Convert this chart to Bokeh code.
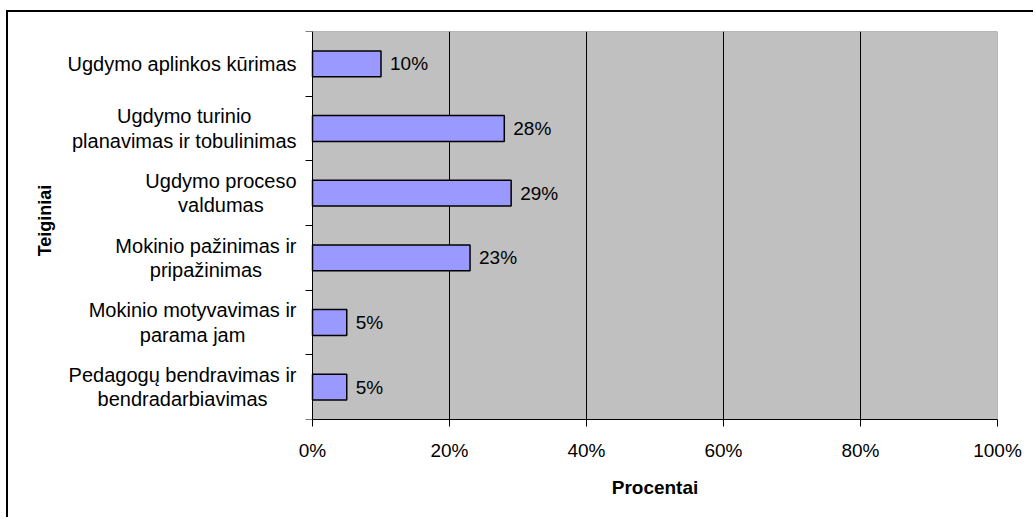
import math

from bokeh.plotting import figure
from bokeh.models import Range1d, FixedTicker, PrintfTickFormatter, ColumnDataSource, Title
from bokeh.core.properties import value
from bokeh.embed import file_html
from bokeh.resources import INLINE

# Statements (top to bottom) and the share of answers for each, in percent
categories = [
    "Ugdymo aplinkos kūrimas",
    "Ugdymo turinio\nplanavimas ir tobulinimas",
    "Ugdymo proceso\nvaldumas",
    "Mokinio pažinimas ir\npripažinimas",
    "Mokinio motyvavimas ir\nparama jam",
    "Pedagogų bendravimas ir\nbendradarbiavimas",
]
percent = [10, 28, 29, 23, 5, 5]
x_ticks = [0, 20, 40, 60, 80, 100]
x_title = "Procentai"
y_title = "Teiginiai"

FONT = "Liberation Sans"
CAT_SIZE = 20
NUM_SIZE = 19
TITLE_SIZE = 19

# Arial/Liberation Sans advance widths (per 1000 em), used to centre the
# lines of each statement inside a block that ends next to the axis
ADV = {
    "U": 722, "M": 833, "P": 667, " ": 278, "a": 556, "b": 556, "c": 500,
    "d": 556, "e": 556, "g": 556, "i": 222, "j": 222, "k": 500, "l": 222,
    "m": 833, "n": 556, "o": 556, "p": 556, "r": 333, "s": 500, "t": 278,
    "u": 556, "v": 500, "y": 500, "ū": 556, "ų": 556, "ž": 500,
}
ADV_BOLD = {"P": 667, "r": 389, "o": 611, "c": 556, "e": 556, "n": 611,
            "t": 333, "a": 556, "i": 278}


def text_width(s, size, table=ADV):
    return max(sum(table.get(ch, 556) for ch in line) for line in s.split("\n")) * size / 1000.0


n = len(categories)
ypos = [n - i - 0.5 for i in range(n)]

# geometry of the canvas (pixels)
W, H = 1027, 507
FRAME_L, AXIS_X, FRAME_R = 12, 304, 989
PLOT_W = FRAME_R - AXIS_X
LABEL_GAP = 16

# the frame reaches left of the 0 % line so the statements sit inside it
x_min = -100.0 * (AXIS_X - FRAME_L) / PLOT_W

src = ColumnDataSource(dict(
    y=ypos,
    pct=percent,
    lbl=[f"{v}%" for v in percent],
))
cat_src = ColumnDataSource(dict(
    x=[0] * n,
    y=ypos,
    text=categories,
    off=[-(LABEL_GAP + text_width(c, CAT_SIZE) / 2) for c in categories],
))

p = figure(
    width=W, height=H,
    x_range=Range1d(x_min, 100), y_range=Range1d(0, n),
    output_backend="svg", toolbar_location=None,
    min_border_left=FRAME_L, min_border_right=W - FRAME_R,
    min_border_top=19, min_border_bottom=100,
)
p.styles = {
    "margin-left": "6px", "margin-top": "10px",
    "border-left": "2px solid #000000", "border-top": "2px solid #000000",
}

p.background_fill_color = "#FFFFFF"
p.border_fill_color = "#FFFFFF"
p.outline_line_color = None

# grey plotting area, behind the grid
panel = p.quad(left=[0], right=[100], bottom=[0], top=[n],
               fill_color="#C0C0C0", line_color="#808080", line_width=1)
panel.level = "image"

# x axis: percentages
xa = p.xaxis[0]
xa.bounds = (0, 100)
xa.ticker = FixedTicker(ticks=x_ticks)
xa.formatter = PrintfTickFormatter(format="%d%%")
xa.major_tick_out = 7
xa.major_tick_in = 0
xa.minor_tick_out = 0
xa.minor_tick_in = 0
xa.axis_line_color = "#000000"
xa.major_tick_line_color = "#000000"
xa.major_label_text_font = FONT
xa.major_label_text_font_size = f"{NUM_SIZE}px"
xa.major_label_text_color = "#000000"
xa.major_label_standoff = 13

# x axis title, centred under the 0-100 % span
title_off = (AXIS_X + FRAME_R) / 2 - FRAME_L - text_width(x_title, TITLE_SIZE, ADV_BOLD) / 2
p.add_layout(Title(text=x_title, align="left", offset=title_off,
                   vertical_align="top", standoff=26,
                   text_font=FONT, text_font_size=f"{TITLE_SIZE}px",
                   text_font_style="bold", text_color="#000000"), "below")

# y axis drawn on the 0 % line, ticks on the boundaries between statements
ya = p.yaxis[0]
ya.fixed_location = 0
ya.ticker = FixedTicker(ticks=[], minor_ticks=list(range(n + 1)))
ya.major_tick_out = 0
ya.major_tick_in = 0
ya.minor_tick_out = 7
ya.minor_tick_in = 0
ya.minor_tick_line_color = "#000000"
ya.axis_line_color = "#000000"
ya.major_label_standoff = 0

p.xgrid.ticker = FixedTicker(ticks=x_ticks[1:-1])
p.xgrid.grid_line_color = "#000000"
p.xgrid.grid_line_width = 1
p.ygrid.visible = False

p.hbar(y="y", left=0, right="pct", height=0.4, source=src,
       fill_color="#9999FF", line_color="#000000", line_width=1.5)

p.text(x="pct", y="y", text="lbl", source=src, x_offset=9,
       text_align="left", text_baseline="middle",
       text_font=value(FONT), text_font_size=f"{NUM_SIZE}px", text_color="#000000")

# statements, lines centred within their block
p.text(x="x", y="y", text="text", x_offset="off", source=cat_src,
       text_align="center", text_baseline="middle", text_line_height=1.12,
       text_font=value(FONT), text_font_size=f"{CAT_SIZE}px", text_color="#000000")

# vertical axis title
p.text(x=[x_min], y=[n / 2], text=[y_title], angle=math.pi / 2,
       x_offset=24, y_offset=-5,
       text_align="center", text_baseline="middle",
       text_font=value(FONT), text_font_size="18px", text_font_style="bold",
       text_color="#000000")

open("out.html", "w").write(file_html(p, INLINE))
